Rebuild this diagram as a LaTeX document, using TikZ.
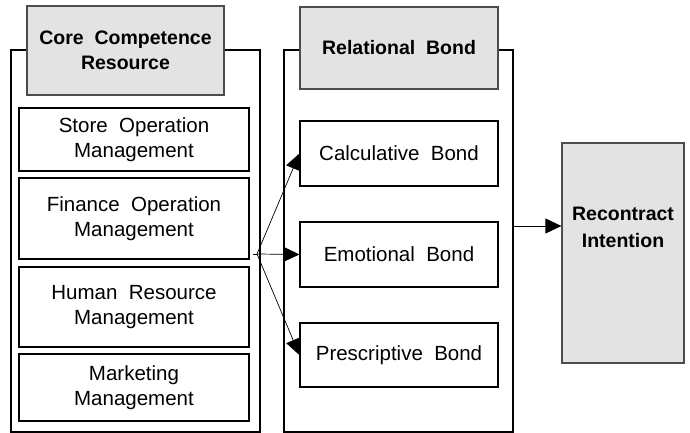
\documentclass[tikz,border=0pt]{standalone}
\usepackage{fontspec}
\setmainfont{Liberation Sans}
\usetikzlibrary{arrows.meta}
\begin{document}
\begin{tikzpicture}[x=1pt,y=-1pt,
  outerbox/.style={draw=black,line width=1.2pt,fill=white},
  headbox/.style={draw=black!70,line width=1.2pt,fill=black!11,align=center,font=\fontsize{19.5}{25}\selectfont\bfseries,inner sep=0pt},
  itembox/.style={draw=black,line width=1.2pt,fill=white,align=center,font=\fontsize{20.5}{25}\selectfont,inner sep=0pt},
  arr/.style={line width=0.7pt,-{Triangle[length=16pt,width=15pt]}},
  ln/.style={line width=0.7pt}]
\useasboundingbox (0,0) rectangle (690,433);
% left column
\node[outerbox,minimum width=249pt,minimum height=382pt,inner sep=0pt] (leftouter) at (135.5,241) {};
\node[headbox,minimum width=197pt,minimum height=89pt] (core) at (125.5,50.5) {Core\ \ Competence\\Resource};
\node[itembox,minimum width=230pt,minimum height=63pt] (store) at (134,139.5) {Store\ \ Operation\\Management};
\node[itembox,minimum width=230pt,minimum height=81pt] (finance) at (134,218.5) {Finance\ \ Operation\\Management};
\node[itembox,minimum width=230pt,minimum height=80pt] (human) at (134,307) {Human\ \ Resource\\Management};
\node[itembox,minimum width=230pt,minimum height=67pt] (marketing) at (134,387.5) {Marketing\\Management};
% middle column
\node[outerbox,minimum width=229pt,minimum height=382pt,inner sep=0pt] (midouter) at (398.5,241) {};
\node[headbox,minimum width=198pt,minimum height=82pt] (relational) at (399,48) {Relational\ \ Bond};
\node[itembox,minimum width=198pt,minimum height=65pt] (calc) at (399,153.5) {Calculative\ \ Bond};
\node[itembox,minimum width=198pt,minimum height=65pt] (emo) at (399,254.5) {Emotional\ \ Bond};
\node[itembox,minimum width=198pt,minimum height=64pt] (pres) at (399,355) {Prescriptive\ \ Bond};
% right
\node[headbox,minimum width=122pt,minimum height=220pt] (recon) at (623,253) {};
\node[align=center,font=\fontsize{19.5}{27}\selectfont\bfseries,inner sep=0pt] (recontext) at (623,227) {Recontract\\Intention};
% connectors
\coordinate (fan) at (257,254);
\coordinate (stub) at (253,254);
\draw[ln] (stub) -- (fan);
\draw[arr] (fan) -- (calc.west);
\draw[arr] (fan) -- (emo.west);
\draw[arr] (fan) -- (pres.west);
\coordinate (r0) at (513,226);
\draw[arr] (r0) -- (r0 -| recon.west);
\end{tikzpicture}
\end{document}
